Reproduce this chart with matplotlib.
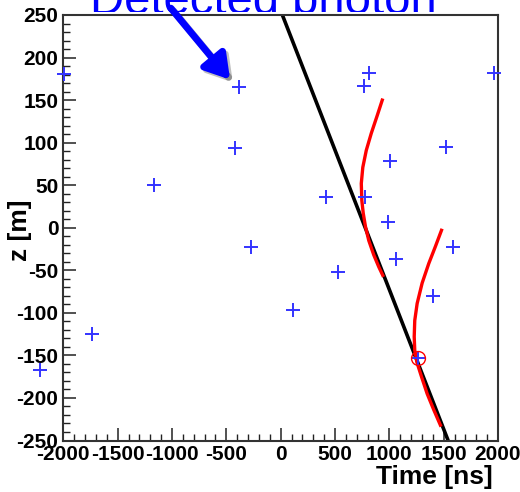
import matplotlib
matplotlib.use('Agg')
import matplotlib.pyplot as plt
from matplotlib.patches import Rectangle
from matplotlib.ticker import MultipleLocator
import matplotlib.patheffects as pe

plt.rcParams['font.family'] = ['Liberation Sans', 'DejaVu Sans']
plt.rcParams['axes.unicode_minus'] = False

# ---- data ----
hit_time = [-1998, -383, -420, -1170, -269, 414, 527, 110, -1740, -2212,
            809, 763, 1002, 772, 986, 1063, 1526, 1583, 1406, 1967, 1265]
hit_z = [181, 165, 94, 50, -23, 36, -52, -97, -125, -167,
         182, 166, 79, 36, 7, -37, 95, -23, -80, 182, -153]

track_time = [16, 1541]
track_z = [250, -250]

hyp1_time = [935, 889, 834, 788, 756, 742, 747, 760, 781, 811, 857, 903, 940]
hyp1_z = [150, 132, 111, 91, 71, 52, 32, 17, 1, -15, -32, -46, -56]

hyp2_time = [1480, 1424, 1363, 1302, 1256, 1234, 1229, 1234, 1256, 1296, 1348, 1409, 1470]
hyp2_z = [-3, -22, -42, -65, -89, -109, -128, -144, -159, -175, -195, -214, -232]

detected_time = [1265]
detected_z = [-153]

arrow_tail = (-1010, 258)
arrow_tip = (-465, 174)

xticks = [-2000, -1500, -1000, -500, 0, 500, 1000, 1500, 2000]
yticks = [-250, -200, -150, -100, -50, 0, 50, 100, 150, 200, 250]

title_text = 'Detected photon'
xlabel_text = 'Time [ns]'
ylabel_text = 'z [m]'

# ---- figure ----
W, H = 520, 492
fig = plt.figure(figsize=(W / 100, H / 100), dpi=100)
fig.patch.set_facecolor('white')

left, right, top, bottom = 63.3, 498.0, 15.0, 440.5
ax = fig.add_axes([left / W, (H - bottom) / H, (right - left) / W, (bottom - top) / H])

ax.plot(track_time, track_z, color='black', lw=2.6, solid_capstyle='butt', zorder=2)
ax.plot(hyp1_time, hyp1_z, color='red', lw=2.4, zorder=3)
ax.plot(hyp2_time, hyp2_z, color='red', lw=2.4, zorder=3)
ax.plot(hit_time, hit_z, linestyle='none', marker='+', markersize=10.5,
        mew=1.4, color=(0.2, 0.2, 1.0), clip_on=False, zorder=4)
ax.plot(detected_time, detected_z, linestyle='none', marker='o', markersize=10,
        mfc='none', mec='red', mew=1.0, zorder=4)

ax.set_xlim(-2000, 2000)
ax.set_ylim(-250, 250)
ax.set_xticks(xticks)
ax.set_yticks(yticks)
ax.set_xticklabels([str(v) for v in xticks])
ax.set_yticklabels([str(v) for v in yticks])
ax.xaxis.set_minor_locator(MultipleLocator(100))
ax.yaxis.set_minor_locator(MultipleLocator(10))

ax.tick_params(which='both', direction='in', top=False, right=False, colors='#222222')
ax.tick_params(which='major', length=9.2, width=1.1, pad=3.5,
               labelsize=15, labelcolor='black')
ax.tick_params(which='minor', length=5.0, width=1.0)
for lab in ax.get_xticklabels() + ax.get_yticklabels():
    lab.set_fontweight('bold')
for s in ax.spines.values():
    s.set_color('#333333')
    s.set_linewidth(1.5)

fig.text(20.5 / W, (H - 230) / H, ylabel_text, rotation=90, ha='center', va='center',
         fontsize=19, fontweight='bold')
fig.text(493 / W, 3 / H, xlabel_text, ha='right', va='bottom',
         fontsize=19, fontweight='bold')

# title, partly cut off at the top; its lower part hidden behind the plot area
ax.text(90 / W, (H - 14) / H, title_text, ha='left', va='baseline',
        fontsize=34, color='#0000ff', transform=fig.transFigure,
        clip_on=False, zorder=1.0)
ax.add_patch(Rectangle((0, (H - 40) / H), 1, 28 / H, transform=fig.transFigure,
                       facecolor='white', edgecolor='none', clip_on=False, zorder=1.1))

ax.annotate('', xy=arrow_tip, xytext=arrow_tail, xycoords='data', textcoords='data',
            annotation_clip=False,
            arrowprops=dict(arrowstyle='-|>,head_length=0.9,head_width=0.55',
                            color='#0000ff', lw=5, mutation_scale=16,
                            shrinkA=0, shrinkB=0,
                            path_effects=[pe.SimpleLineShadow(offset=(2, -2), alpha=0.25),
                                          pe.Normal()]),
            zorder=6)

fig.savefig('out.png', dpi=100, facecolor='white')
